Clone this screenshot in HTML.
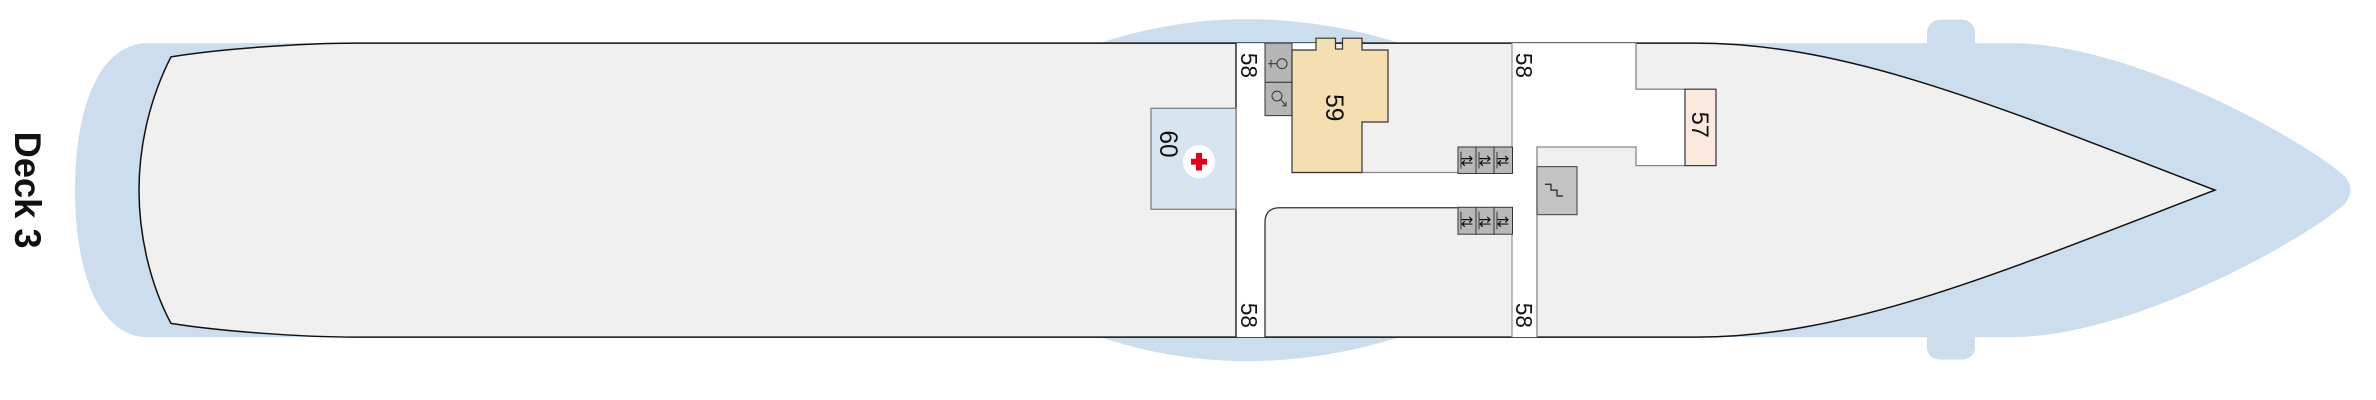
<!DOCTYPE html>
<html><head><meta charset="utf-8"><style>
html,body{margin:0;padding:0;background:#fff;}
svg{display:block;}
text{font-family:"Liberation Sans","DejaVu Sans",sans-serif;fill:#111;}
</style></head><body>
<svg width="2376" height="400" viewBox="0 0 2376 400" xmlns="http://www.w3.org/2000/svg">
<g transform="scale(1,0.98)">
<!-- blue backdrop -->
<g fill="#ccdeed">
<path d="M148 44 L360 44 L360 344 L148 344 C100 344 75 280 75 194 C75 108 100 44 148 44 Z"/>
<path d="M1100 44 Q1245 -5 1400 44 Z"/>
<path d="M1100 344 Q1245 393 1400 344 Z"/>
<path d="M1690 44 L2011 44 C2130 44 2300 140 2345 180 Q2356 194 2345 208 C2300 248 2130 344 2011 344 L1690 344 Z"/>
<path d="M1927 44 L1927 32 Q1929 20 1942 20 L1960 20 Q1973 20 1975 32 L1975 44 Z"/>
<path d="M1927 344 L1927 356 Q1929 367 1942 367 L1960 367 Q1973 367 1975 356 L1975 344 Z"/>
</g>
<!-- hull -->
<path d="M171 58 C220 50 300 44 357 44 L1696 44 C1850 44 2000 110 2215 194 C2000 278 1850 344 1696 344 L357 344 C300 344 220 338 171 330 C150 290 139 240 139 194 C139 148 150 100 171 58 Z" fill="#f0f0f0" stroke="#111" stroke-width="1.5"/>
<text transform="translate(15,194) rotate(90)" text-anchor="middle" font-size="37" font-weight="bold">Deck 3</text>

<!-- corridors (white) -->
<path d="M1236 44 L1265 44 L1265 344 L1236 344 Z" fill="#fff"/>
<path d="M1265 176 L1513 176 L1513 212 L1280 212 Q1265 212 1265 227 Z" fill="#fff"/>
<path d="M1512 44 L1636 44 L1636 91 L1685 91 L1685 169 L1636 169 L1636 150 L1537 150 L1537 344 L1512 344 Z" fill="#fff"/>
<rect x="1265" y="118" width="27" height="58" fill="#fff"/>
<rect x="1292" y="44" width="24" height="7" fill="#fff"/>
<!-- corridor lines -->
<g fill="none" stroke-width="1.3">
<line x1="1236" y1="44" x2="1236" y2="344" stroke="#111"/>
<path d="M1265 344 L1265 227 Q1265 212 1280 212 L1512 212" stroke="#333"/>
<line x1="1292" y1="176" x2="1512" y2="176" stroke="#888"/>
<line x1="1512" y1="44" x2="1512" y2="176" stroke="#999"/>
<line x1="1512" y1="212" x2="1512" y2="344" stroke="#999"/>
<path d="M1537 344 L1537 150 L1636 150 L1636 169 L1685 169" stroke="#888"/>
<path d="M1636 44 L1636 91 L1685 91" stroke="#888"/>
</g>

<!-- room 60 -->
<rect x="1151" y="110.5" width="85" height="103" fill="#d7e5f0" stroke="#777" stroke-width="1.2"/>
<text transform="translate(1160,133) rotate(90)" font-size="25">60</text>
<ellipse cx="1199" cy="165" rx="16" ry="17" fill="#fff"/>
<rect x="1191" y="162" width="16" height="6" fill="#e2001a"/>
<rect x="1196" y="156" width="6" height="18" fill="#e2001a"/>

<!-- WC -->
<rect x="1265" y="44" width="27" height="40" fill="#b5b5b5" stroke="#333" stroke-width="1"/>
<rect x="1265" y="84" width="27" height="34" fill="#b5b5b5" stroke="#333" stroke-width="1"/>
<g fill="none" stroke="#333" stroke-width="1">
<circle cx="1282" cy="65" r="5"/><line x1="1277" y1="65" x2="1268" y2="65"/><line x1="1271" y1="61" x2="1271" y2="69"/>
<circle cx="1277" cy="98" r="5"/><line x1="1281" y1="102" x2="1286" y2="108"/><path d="M1282 108 L1286 108 L1286 104"/>
</g>

<!-- room 59 -->
<path d="M1292 51 L1316 51 L1316 39 L1335.5 39 L1335.5 50 L1342.5 50 L1342.5 39 L1362 39 L1362 51 L1388 51 L1388 124.5 L1362 124.5 L1362 176 L1292 176 Z" fill="#f5dfb1" stroke="#333" stroke-width="1.2"/>
<text transform="translate(1326,96) rotate(90)" font-size="25">59</text>

<!-- elevators -->
<g fill="#b8b8b8" stroke="#333" stroke-width="1">
<rect x="1458" y="150" width="18" height="27"/><rect x="1476" y="150" width="18" height="27"/><rect x="1494" y="150" width="18.5" height="27"/>
<rect x="1458" y="211.5" width="18" height="27.5"/><rect x="1476" y="211.5" width="18" height="27.5"/><rect x="1494" y="211.5" width="18.5" height="27.5"/>
</g>
<g font-size="15" fill="#333" text-anchor="middle">
<text x="1467" y="169">⇄</text><text x="1485" y="169">⇄</text><text x="1503" y="169">⇄</text>
<text x="1467" y="231">⇄</text><text x="1485" y="231">⇄</text><text x="1503" y="231">⇄</text>
</g>
<g stroke="#333" stroke-width="1">
<line x1="1461" y1="155" x2="1461" y2="172"/><line x1="1479" y1="155" x2="1479" y2="172"/><line x1="1497" y1="155" x2="1497" y2="172"/>
<line x1="1461" y1="216" x2="1461" y2="234"/><line x1="1479" y1="216" x2="1479" y2="234"/><line x1="1497" y1="216" x2="1497" y2="234"/>
</g>

<!-- stairs -->
<rect x="1537" y="170" width="40" height="49" fill="#c4c4c4" stroke="#555" stroke-width="1.2"/>
<path d="M1545 188 L1551 188 L1551 194 L1557 194 L1557 200 L1563 200" fill="none" stroke="#222" stroke-width="1.2"/>

<!-- room 57 -->
<rect x="1685" y="91" width="31" height="78" fill="#fbe8df" stroke="#333" stroke-width="1.2"/>
<text transform="translate(1692,114) rotate(90)" font-size="24">57</text>

<!-- 58 labels -->
<g font-size="23">
<text transform="translate(1241,54) rotate(90)">58</text>
<text transform="translate(1241,309) rotate(90)">58</text>
<text transform="translate(1516,54) rotate(90)">58</text>
<text transform="translate(1516,309) rotate(90)">58</text>
</g>
</g>
</svg>
</body></html>
